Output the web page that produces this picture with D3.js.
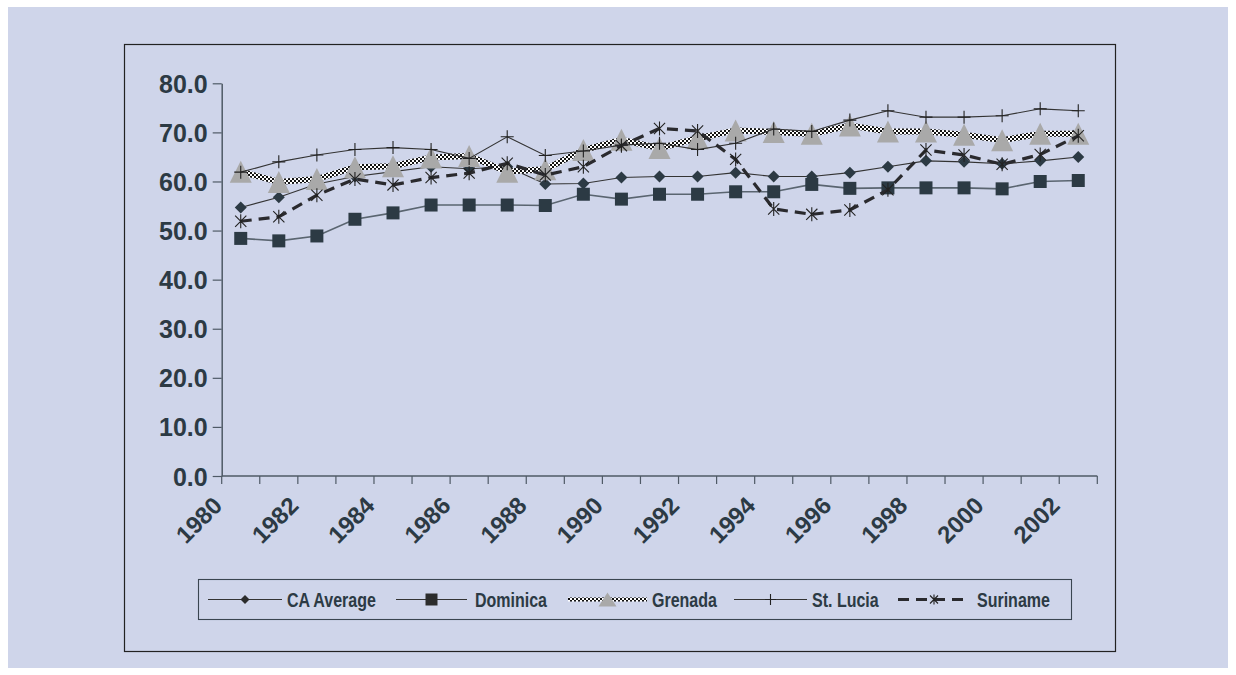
<!DOCTYPE html>
<html>
<head>
<meta charset="utf-8">
<script src="https://cdn.jsdelivr.net/npm/d3@7/dist/d3.min.js"></script>
<style>
  html, body { margin: 0; padding: 0; background: #ffffff; }
  svg { display: block; }
</style>
</head>
<body>
<svg id="chart" width="1236" height="675"></svg>
<script>
// ---- data ----
const years = d3.range(1980, 2003).map(String);
const yTicks = [0, 10, 20, 30, 40, 50, 60, 70, 80];
const xLabelYears = ["1980","1982","1984","1986","1988","1990","1992","1994","1996","1998","2000","2002"];

const caAverage = [54.7, 56.8, 59.5, 61.0, 62.0, 63.0, 62.6, 63.0, 59.5, 59.6, 60.8, 61.0, 61.0, 61.8, 61.0, 61.0, 61.8, 63.0, 64.2, 64.0, 63.6, 64.2, 65.0];
const dominica  = [48.4, 47.9, 48.9, 52.3, 53.6, 55.2, 55.2, 55.2, 55.1, 57.4, 56.4, 57.4, 57.4, 57.9, 57.9, 59.4, 58.6, 58.7, 58.7, 58.7, 58.5, 60.0, 60.2];
const grenada   = [62.0, 59.9, 60.5, 62.9, 63.1, 64.9, 65.2, 62.0, 62.5, 66.4, 68.5, 66.8, 68.8, 70.4, 70.1, 69.7, 71.4, 70.2, 70.2, 69.5, 68.4, 69.7, 69.7];
const stLucia   = [61.9, 64.0, 65.4, 66.5, 66.9, 66.5, 64.7, 69.1, 65.3, 66.2, 67.4, 67.8, 66.5, 67.8, 70.7, 70.2, 72.5, 74.4, 73.1, 73.1, 73.4, 74.8, 74.4];
const suriname  = [51.9, 52.8, 57.2, 60.5, 59.3, 60.8, 61.7, 63.7, 61.3, 63.0, 67.3, 70.8, 70.3, 64.5, 54.4, 53.3, 54.2, 58.3, 66.4, 65.4, 63.5, 65.5, 69.3];

const seriesNames = ["CA Average", "Dominica", "Grenada", "St. Lucia", "Suriname"];

// ---- styling ----
const BG = "#cfd5ea";
const INK = "#2c3a44";
const AXIS = "#4f5a66";

const svg = d3.select("#chart");
const defs = svg.append("defs");

// checkered fill used for the Grenada line
const pat = defs.append("pattern")
  .attr("id", "checker").attr("patternUnits", "userSpaceOnUse")
  .attr("width", 4).attr("height", 4);
pat.append("rect").attr("width", 4).attr("height", 4).attr("fill", "#111");
pat.append("rect").attr("x", 0).attr("y", 0).attr("width", 2).attr("height", 2).attr("fill", "#fff");
pat.append("rect").attr("x", 2).attr("y", 2).attr("width", 2).attr("height", 2).attr("fill", "#fff");

// page background and chart frame
svg.append("rect").attr("x", 8).attr("y", 7).attr("width", 1220).attr("height", 661).attr("fill", BG);
svg.append("rect").attr("x", 124.5).attr("y", 44.5).attr("width", 991).attr("height", 607)
  .attr("fill", "none").attr("stroke", "#222").attr("stroke-width", 1.2);

// ---- scales ----
const x = d3.scaleBand().domain(years).range([221.7, 1097.3]).padding(0);
const cx = d => x(d) + x.bandwidth() / 2;
const y = d3.scaleLinear().domain([0, 80]).range([476, 83.3]);

// ---- axes ----
const yAxis = svg.append("g").attr("transform", "translate(221.7,0)")
  .call(d3.axisLeft(y).tickValues(yTicks).tickSize(9).tickSizeOuter(0).tickFormat(d3.format(".1f")));
yAxis.select(".domain").attr("stroke", AXIS).attr("stroke-width", 1.5);
yAxis.selectAll(".tick line").attr("stroke", AXIS).attr("stroke-width", 1.2);
yAxis.selectAll(".tick text")
  .attr("x", -14).attr("dy", "0.36em")
  .attr("fill", INK).attr("font-family", "Liberation Sans, Arial, sans-serif")
  .attr("font-weight", "bold").attr("font-size", 25);

const xAxisG = svg.append("g").attr("transform", "translate(0,476)");
xAxisG.append("line").attr("x1", 221.7).attr("x2", 1097.3).attr("y1", 0).attr("y2", 0)
  .attr("stroke", AXIS).attr("stroke-width", 1.5);
const edges = years.map(d => x(d)).concat([x.range()[1]]);
xAxisG.selectAll("line.tk").data(edges).join("line").attr("class", "tk")
  .attr("x1", d => d).attr("x2", d => d).attr("y1", 0).attr("y2", 8)
  .attr("stroke", AXIS).attr("stroke-width", 1.2);
xAxisG.selectAll("text").data(xLabelYears).join("text")
  .attr("transform", d => `translate(${cx(d) - 17},${31}) rotate(-45)`)
  .attr("text-anchor", "end")
  .attr("fill", INK).attr("font-family", "Liberation Sans, Arial, sans-serif")
  .attr("font-weight", "bold").attr("font-size", 24)
  .text(d => d);

// ---- marker shapes ----
const markers = {
  diamond: s => `M0,${-s/2}L${s/2},0L0,${s/2}L${-s/2},0Z`,
  square: s => `M${-s/2},${-s/2}h${s}v${s}h${-s}Z`,
  triangle: (w, h) => `M0,${-h/2}L${w/2},${h/2}L${-w/2},${h/2}Z`,
  plus: s => `M${-s/2},0H${s/2}M0,${-s/2}V${s/2}`,
  star: s => { const a = s/2, b = s/2 * 0.8; return `M0,${-a}V${a}M${-b},${-b}L${b},${b}M${-b},${b}L${b},${-b}`; }
};

const line = d3.line().x(d => cx(d.year)).y(d => y(d.v));
const pts = arr => years.map((yr, i) => ({ year: yr, v: arr[i] }));

const plot = svg.append("g");

// CA Average
plot.append("path").datum(pts(caAverage)).attr("d", line)
  .attr("fill", "none").attr("stroke", "#333").attr("stroke-width", 1.1);
plot.selectAll("path.ca").data(pts(caAverage)).join("path").attr("class", "ca")
  .attr("transform", d => `translate(${cx(d.year)},${y(d.v)})`)
  .attr("d", markers.diamond(12)).attr("fill", "#2c3a44");

// Dominica
plot.append("path").datum(pts(dominica)).attr("d", line)
  .attr("fill", "none").attr("stroke", "#5a6570").attr("stroke-width", 1.6);
plot.selectAll("path.dom").data(pts(dominica)).join("path").attr("class", "dom")
  .attr("transform", d => `translate(${cx(d.year)},${y(d.v)})`)
  .attr("d", markers.square(13)).attr("fill", "#2c3a44");

// Grenada
plot.append("path").datum(pts(grenada)).attr("d", line)
  .attr("fill", "none").attr("stroke", "url(#checker)").attr("stroke-width", 6);
plot.selectAll("path.gre").data(pts(grenada)).join("path").attr("class", "gre")
  .attr("transform", d => `translate(${cx(d.year)},${y(d.v)})`)
  .attr("d", markers.triangle(22, 22)).attr("fill", "#a9a9a9");

// St. Lucia
plot.append("path").datum(pts(stLucia)).attr("d", line)
  .attr("fill", "none").attr("stroke", "#333").attr("stroke-width", 1.1);
plot.selectAll("path.stl").data(pts(stLucia)).join("path").attr("class", "stl")
  .attr("transform", d => `translate(${cx(d.year)},${y(d.v)})`)
  .attr("d", markers.plus(13)).attr("fill", "none").attr("stroke", "#222").attr("stroke-width", 1.1);

// Suriname
plot.append("path").datum(pts(suriname)).attr("d", line)
  .attr("fill", "none").attr("stroke", "#2a2a2e").attr("stroke-width", 3.2)
  .attr("stroke-dasharray", "11,7");
plot.selectAll("path.sur").data(pts(suriname)).join("path").attr("class", "sur")
  .attr("transform", d => `translate(${cx(d.year)},${y(d.v)})`)
  .attr("d", markers.star(14)).attr("fill", "none").attr("stroke", "#222").attr("stroke-width", 1.1);

// ---- legend ----
const lg = svg.append("g");
lg.append("rect").attr("x", 198.5).attr("y", 579.5).attr("width", 873).attr("height", 40)
  .attr("fill", "none").attr("stroke", "#3a4550").attr("stroke-width", 1.1);
const ly = 599.5;
const legendItems = [
  { name: seriesNames[0], x1: 208, x2: 282, tx: 287 },
  { name: seriesNames[1], x1: 396, x2: 467, tx: 475 },
  { name: seriesNames[2], x1: 568, x2: 647, tx: 652 },
  { name: seriesNames[3], x1: 734, x2: 807, tx: 812 },
  { name: seriesNames[4], x1: 898, x2: 970, tx: 977 }
];
legendItems.forEach((it, i) => {
  const mx = (it.x1 + it.x2) / 2;
  const ln = lg.append("line").attr("x1", it.x1).attr("x2", it.x2).attr("y1", ly).attr("y2", ly);
  if (i === 0) {
    ln.attr("stroke", "#333").attr("stroke-width", 1.1);
    lg.append("path").attr("transform", `translate(${mx},${ly})`).attr("d", markers.diamond(9)).attr("fill", "#2c2c2c");
  } else if (i === 1) {
    ln.attr("stroke", "#333").attr("stroke-width", 1.1);
    lg.append("path").attr("transform", `translate(${mx},${ly})`).attr("d", markers.square(12)).attr("fill", "#2c2c2c");
  } else if (i === 2) {
    ln.attr("stroke", "url(#checker)").attr("stroke-width", 4);
    lg.append("path").attr("transform", `translate(${mx},${ly})`).attr("d", markers.triangle(18, 14)).attr("fill", "#a9a9a9");
  } else if (i === 3) {
    ln.attr("stroke", "#333").attr("stroke-width", 1.1);
    lg.append("path").attr("transform", `translate(${mx},${ly})`).attr("d", markers.plus(11))
      .attr("fill", "none").attr("stroke", "#222").attr("stroke-width", 1.1);
  } else {
    ln.attr("stroke", "#2a2a2e").attr("stroke-width", 3.2).attr("stroke-dasharray", "11,7");
    lg.append("path").attr("transform", `translate(${mx},${ly})`).attr("d", markers.star(10))
      .attr("fill", "none").attr("stroke", "#222").attr("stroke-width", 1.1);
  }
  // condensed bold label
  lg.append("text").attr("transform", `translate(${it.tx},${ly}) scale(0.8,1)`).attr("dy", "0.36em")
    .attr("fill", INK).attr("font-family", "Liberation Sans, Arial, sans-serif")
    .attr("font-weight", "bold").attr("font-size", 20)
    .text(it.name);
});
</script>
</body>
</html>
